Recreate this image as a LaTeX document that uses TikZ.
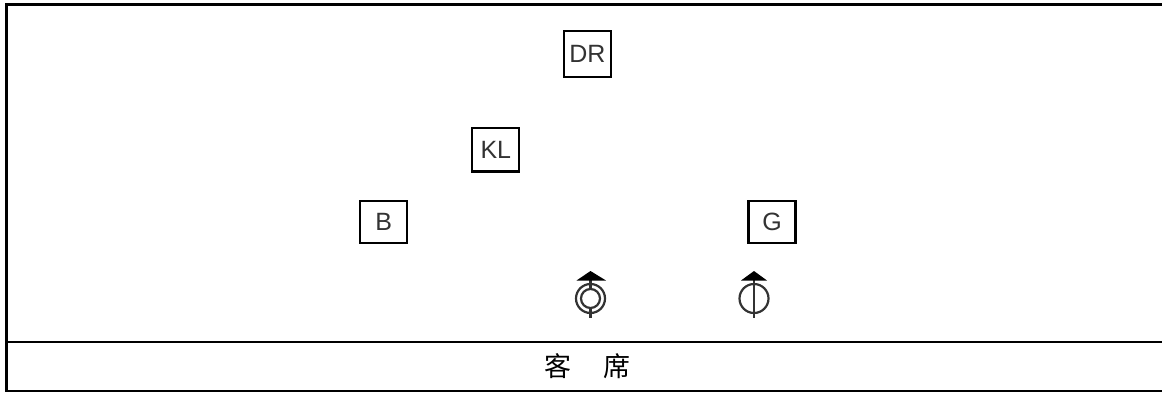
\documentclass[tikz,border=0pt]{standalone}
\usepackage{fontspec}
\setmainfont{Liberation Sans}
\newfontfamily\cjk{Noto Sans CJK SC}
\tikzset{
  player/.style={draw=black,line width=2.2pt,fill=white,inner sep=0pt,font=\fontsize{25}{28}\selectfont,text=black!80},
  frameline/.style={draw=black,line width=2.2pt},
  symline/.style={draw=black!80,line width=2.2pt},
  head/.style={fill=black,draw=none}
}
\begin{document}
\begin{tikzpicture}[x=1pt,y=-1pt]
\useasboundingbox (0,0) rectangle (1162,392);
\coordinate (tl) at (6.5,4.5);
\coordinate (tr) at (1162,4.5);
\coordinate (bl) at (6.5,391);
\coordinate (br) at (1162,391);
\coordinate (ml) at (6.5,342);
\coordinate (mr) at (1162,342);
\draw[frameline] (tr) -- (tl) -- (bl) -- (br);
\draw[frameline] (ml) -- (mr);
\node[player,minimum width=47pt,minimum height=45.5pt] (dr) at (587.3,54) {DR};
\node[player,minimum width=47pt,minimum height=43.5pt] (kl) at (495.8,149.7) {KL};
\node[player,minimum width=47pt,minimum height=42pt] (b) at (383.7,221.7) {B};
\node[player,minimum width=47pt,minimum height=42pt] (g) at (772,221.7) {G};
% first microphone
\coordinate (m1) at (590.5,298.5);
\draw[symline] (m1) circle (14.5);
\draw[symline] (m1) circle (9.5);
\draw[symline] (590.5,275) -- (590.5,289);
\draw[symline] (590.5,308) -- (590.5,318);
\fill[head] (590.5,271) -- (606,280.5) -- (576.5,280.5) -- cycle;
% second microphone
\coordinate (m2) at (754,298.5);
\draw[symline] (m2) circle (14.5);
\draw[symline] (754,275) -- (754,318);
\fill[head] (754,271) -- (767,280.5) -- (741,280.5) -- cycle;
\node[font=\cjk\fontsize{27}{30}\selectfont,text=black] (seat) at (587.5,366.5) {客\hspace{1.15em}席};
\end{tikzpicture}
\end{document}
